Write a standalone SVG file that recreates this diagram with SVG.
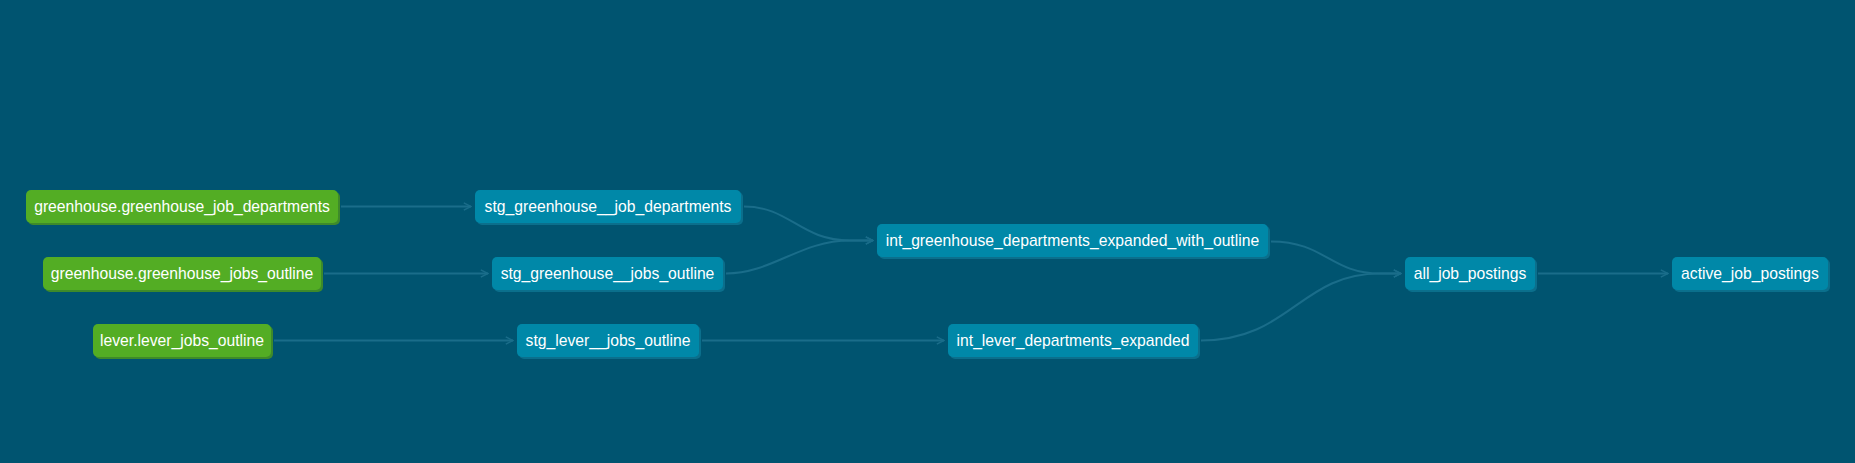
<svg xmlns="http://www.w3.org/2000/svg" width="1855" height="463" viewBox="0 0 1855 463">
<defs>
<marker id="arr" viewBox="0 0 10 10" refX="9" refY="5" markerWidth="9" markerHeight="9" markerUnits="userSpaceOnUse" orient="auto">
<path d="M1,1 L9,5 L1,9" fill="none" stroke="#1a6d8a" stroke-width="1.6"/>
</marker>
</defs>
<style>
.bg{fill:#005470}
.src .box{fill:#53ad24}
.src .sh{fill:#3e8a2a}
.mdl .box{fill:#0088a8}
.mdl .sh{fill:#0b6f8c}
text{font-family:"Liberation Sans",Arial,sans-serif;font-size:15.7px;fill:#ffffff;text-anchor:middle}
.edge{fill:none;stroke:#1a6d8a;stroke-width:2;marker-end:url(#arr)}
</style>
<rect class="bg" x="0" y="0" width="1855" height="463"/>
<g id="connectors">
<path class="edge" d="M341,206.5 L471,206.5"/>
<path class="edge" d="M324,273.5 L488,273.5"/>
<path class="edge" d="M274,340.5 L513,340.5"/>
<path class="edge" d="M744,206.5 C790,206.5 800,240.5 850,240.5 L873,240.5"/>
<path class="edge" d="M726,273.5 C772,273.5 800,240.5 850,240.5 L873,240.5"/>
<path class="edge" d="M702,340.5 L944,340.5"/>
<path class="edge" d="M1271,241.5 C1325,241.5 1330,273.5 1380,273.5 L1401,273.5"/>
<path class="edge" d="M1201,340.5 C1290,340.5 1300,273.5 1380,273.5 L1401,273.5"/>
<path class="edge" d="M1538,273.5 L1668,273.5"/>
</g>
<g id="greenhouse_job_departments" class="src">
<rect class="sh" x="28" y="192" width="312" height="33" rx="5"/>
<rect class="box" x="26" y="190" width="312" height="33" rx="5"/>
<text x="182" y="212">greenhouse.greenhouse_job_departments</text>
</g>
<g id="greenhouse_jobs_outline" class="src">
<rect class="sh" x="45" y="259" width="278" height="33" rx="5"/>
<rect class="box" x="43" y="257" width="278" height="33" rx="5"/>
<text x="182" y="279">greenhouse.greenhouse_jobs_outline</text>
</g>
<g id="lever_jobs_outline" class="src">
<rect class="sh" x="95" y="326" width="178" height="33" rx="5"/>
<rect class="box" x="93" y="324" width="178" height="33" rx="5"/>
<text x="182" y="346">lever.lever_jobs_outline</text>
</g>
<g id="stg_greenhouse__job_departments" class="mdl">
<rect class="sh" x="477" y="192" width="266" height="33" rx="5"/>
<rect class="box" x="475" y="190" width="266" height="33" rx="5"/>
<text x="608" y="212">stg_greenhouse__job_departments</text>
</g>
<g id="stg_greenhouse__jobs_outline" class="mdl">
<rect class="sh" x="494" y="259" width="231" height="33" rx="5"/>
<rect class="box" x="492" y="257" width="231" height="33" rx="5"/>
<text x="607.5" y="279">stg_greenhouse__jobs_outline</text>
</g>
<g id="stg_lever__jobs_outline" class="mdl">
<rect class="sh" x="519" y="326" width="182" height="33" rx="5"/>
<rect class="box" x="517" y="324" width="182" height="33" rx="5"/>
<text x="608" y="346">stg_lever__jobs_outline</text>
</g>
<g id="int_greenhouse_departments_expanded_with_outline" class="mdl">
<rect class="sh" x="879" y="226" width="391" height="33" rx="5"/>
<rect class="box" x="877" y="224" width="391" height="33" rx="5"/>
<text x="1072.5" y="246">int_greenhouse_departments_expanded_with_outline</text>
</g>
<g id="int_lever_departments_expanded" class="mdl">
<rect class="sh" x="950" y="326" width="250" height="33" rx="5"/>
<rect class="box" x="948" y="324" width="250" height="33" rx="5"/>
<text x="1073" y="346">int_lever_departments_expanded</text>
</g>
<g id="all_job_postings" class="mdl">
<rect class="sh" x="1407" y="259" width="130" height="33" rx="5"/>
<rect class="box" x="1405" y="257" width="130" height="33" rx="5"/>
<text x="1470" y="279">all_job_postings</text>
</g>
<g id="active_job_postings" class="mdl">
<rect class="sh" x="1674" y="259" width="156" height="33" rx="5"/>
<rect class="box" x="1672" y="257" width="156" height="33" rx="5"/>
<text x="1750" y="279">active_job_postings</text>
</g>
</svg>
